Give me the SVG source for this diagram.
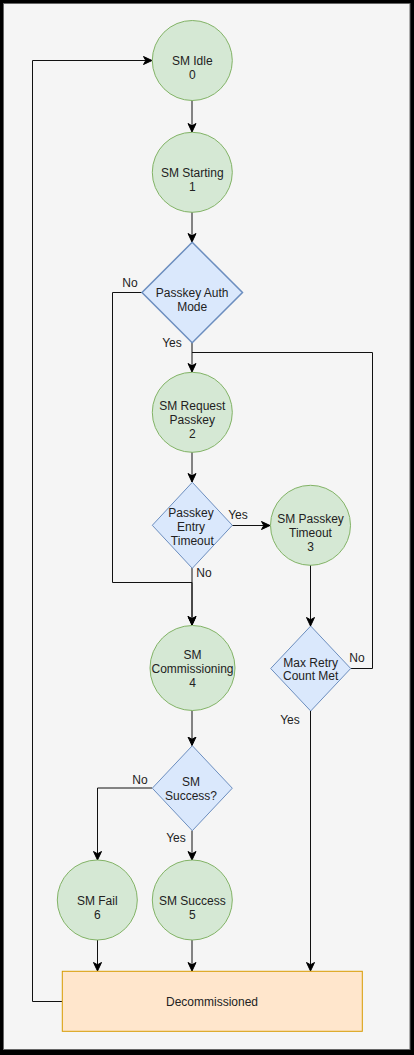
<svg xmlns="http://www.w3.org/2000/svg" width="414" height="1055" viewBox="0 0 414 1055">
<defs>
<marker id="arr" markerWidth="10" markerHeight="10" refX="9" refY="4.5" orient="auto" markerUnits="userSpaceOnUse">
<path d="M0.5,0.5 L9,4.5 L0.5,8.5 L2.8,4.5 Z" fill="#000" stroke="#000" stroke-width="1"/>
</marker>
</defs>
<style>
.st{fill:#d5e8d4;stroke:#82b366;stroke-width:1}
.dc{fill:#dae8fc;stroke:#6c8ebf;stroke-width:1.5}
.dc2{fill:#dae8fc;stroke:#6c8ebf;stroke-width:1}
.box{fill:#ffe6cc;stroke:#d79b00;stroke-width:1}
text{font-family:"Liberation Sans",Arial,sans-serif;font-size:12px;fill:#222;text-anchor:middle}
.e{fill:none;stroke:#111;stroke-width:1}
.ea{fill:none;stroke:#111;stroke-width:1;marker-end:url(#arr)}
</style>
<rect x="0" y="0" width="414" height="1055" fill="#000"/>
<rect x="3.5" y="3.5" width="406.5" height="1046" fill="#f5f5f5" stroke="#666" stroke-width="1"/>

<g id="connectors">
<path class="ea" d="M192,100 L192,132"/>
<path class="ea" d="M192,212 L192,242"/>
<path class="ea" d="M192,342 L192,372"/>
<path class="ea" d="M142,292.5 L112.5,292.5 L112.5,582.5 L192,582.5 L192,625"/>
<path class="ea" d="M192,452 L192,482"/>
<path class="ea" d="M232,525.5 L270,525.5"/>
<path class="ea" d="M192,568 L192,625"/>
<path class="ea" d="M310.5,565 L310.5,626"/>
<path class="e" d="M350.5,668.5 L372.5,668.5 L372.5,352.5 L192,352.5"/>
<path class="ea" d="M310.5,711 L310.5,971"/>
<path class="ea" d="M192,710.5 L192,745.5"/>
<path class="ea" d="M192,830.5 L192,860"/>
<path class="ea" d="M152,788 L97.5,788 L97.5,860"/>
<path class="ea" d="M97.5,940 L97.5,971"/>
<path class="ea" d="M192,940 L192,971"/>
<path class="ea" d="M62,1001.5 L32.5,1001.5 L32.5,60.5 L152,60.5"/>
<text x="130" y="287">No</text>
<text x="172" y="347">Yes</text>
<text x="238" y="519">Yes</text>
<text x="204" y="577">No</text>
<text x="357" y="662">No</text>
<text x="290" y="724">Yes</text>
<text x="140" y="784">No</text>
<text x="176" y="842">Yes</text>
</g>

<g id="sm-idle">
<circle class="st" cx="192.3" cy="60.5" r="40"/>
<text x="192.3" y="65">SM Idle</text>
<text x="192.3" y="79.3">0</text>
</g>
<g id="sm-starting">
<circle class="st" cx="192.3" cy="172.3" r="40"/>
<text x="192.3" y="177">SM Starting</text>
<text x="192.3" y="191">1</text>
</g>
<g id="passkey-auth-mode">
<polygon class="dc" points="192.2,242.3 242.5,292.5 192.2,342.7 142,292.5"/>
<text x="192.2" y="297">Passkey Auth</text>
<text x="192.2" y="311">Mode</text>
</g>
<g id="sm-request-passkey">
<circle class="st" cx="192.3" cy="412.3" r="40"/>
<text x="192.3" y="410">SM Request</text>
<text x="192.3" y="424">Passkey</text>
<text x="192.3" y="438">2</text>
</g>
<g id="passkey-entry-timeout">
<polygon class="dc2" points="192.3,482.3 232.3,525.3 192.3,568.3 152.3,525.3"/>
<text x="191" y="516.5">Passkey</text>
<text x="191" y="530.5">Entry</text>
<text x="192.3" y="544.5">Timeout</text>
</g>
<g id="sm-passkey-timeout">
<circle class="st" cx="310.5" cy="525.3" r="40"/>
<text x="310.5" y="523.3">SM Passkey</text>
<text x="310.5" y="537.3">Timeout</text>
<text x="310.5" y="551.3">3</text>
</g>
<g id="sm-commissioning">
<circle class="st" cx="192.5" cy="668" r="42.5"/>
<text x="192.5" y="658.6">SM</text>
<text x="192.5" y="673">Commissioning</text>
<text x="192.5" y="687">4</text>
</g>
<g id="max-retry">
<polygon class="dc2" points="310.7,626 350.7,668.5 310.7,711 270.7,668.5"/>
<text x="310.7" y="666.6">Max Retry</text>
<text x="310.7" y="680">Count Met</text>
</g>
<g id="sm-success-q">
<polygon class="dc2" points="192.3,745.7 232.3,788.2 192.3,830.7 152.3,788.2"/>
<text x="191" y="786">SM</text>
<text x="191" y="799.6">Success?</text>
</g>
<g id="sm-fail">
<circle class="st" cx="97.3" cy="900" r="40"/>
<text x="97.3" y="905">SM Fail</text>
<text x="97.3" y="918.6">6</text>
</g>
<g id="sm-success">
<circle class="st" cx="192.3" cy="900" r="40"/>
<text x="192.3" y="905">SM Success</text>
<text x="192.3" y="918.6">5</text>
</g>
<g id="decommissioned">
<rect class="box" x="62.3" y="971.3" width="300" height="60"/>
<text x="212" y="1006">Decommissioned</text>
</g>
</svg>
